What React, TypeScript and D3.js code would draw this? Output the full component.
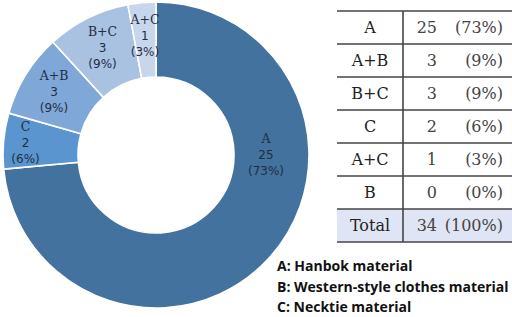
import React from "react";
import * as d3 from "d3";

const categories = ["A", "C", "A+B", "B+C", "A+C", "B"];
const counts = [25, 2, 3, 3, 1, 0];
const percents = ["73%", "6%", "9%", "9%", "3%", "0%"];
const colors = ["#44729f", "#5b95cf", "#7fa8d8", "#a9c2e2", "#c8d6ec", "#dbe5f3"];

const tableCats = ["A", "A+B", "B+C", "C", "A+C", "B", "Total"];
const tableCounts = [25, 3, 3, 2, 1, 0, 34];
const tablePercents = ["(73%)", "(9%)", "(9%)", "(6%)", "(3%)", "(0%)", "(100%)"];

const legendLines = ["A: Hanbok material", "B: Western-style clothes material", "C: Necktie material"];

export default function App() {
  const W = 512, H = 317;
  const cx = 156, cy = 155, rOuter = 153, rInner = 78;
  const pie = d3.pie<number>().value((d) => d).sort(null)(counts);
  const arc = d3.arc<d3.PieArcDatum<number>>().innerRadius(rInner).outerRadius(rOuter);

  const tx0 = 337, tx1 = 512, tDiv = 403, ty0 = 11, rowH = 33;
  const yScale = d3.scaleLinear().domain([0, tableCats.length]).range([ty0, ty0 + rowH * tableCats.length]);

  return (
    <svg width={W} height={H} style={{ position: "absolute", left: 0, top: 0, background: "#fff" }}>
      <g transform={`translate(${cx},${cy})`}>
        {pie.map((p, i) =>
          p.value > 0 ? (
            <path key={i} d={arc(p) || ""} fill={colors[i]} stroke="#fff" strokeWidth={1.6} />
          ) : null
        )}
        {pie.map((p, i) => {
          if (p.value === 0) return null;
          let x: number, y: number;
          if (i === 0) {
            x = 110; y = 0;
          } else {
            const mid = (p.startAngle + p.endAngle) / 2;
            const r = i === 1 ? 131 : 120;
            x = r * Math.sin(mid);
            y = -r * Math.cos(mid);
          }
          return (
            <g key={"l" + i} transform={`translate(${x},${y})`} fill="#1f2d45" textAnchor="middle">
              <text y={-12} fontFamily="DejaVu Serif, serif" fontSize={12.5}>{categories[i]}</text>
              <text y={4} fontFamily="DejaVu Sans, sans-serif" fontSize={12}>{counts[i]}</text>
              <text y={20} fontFamily="DejaVu Sans, sans-serif" fontSize={12}>({percents[i]})</text>
            </g>
          );
        })}
      </g>

      <rect x={tx0} y={yScale(6)} width={tx1 - tx0} height={rowH} fill="#dfe5f4" />
      {d3.range(tableCats.length + 1).map((k) => (
        <line key={"h" + k} x1={tx0} x2={tx1} y1={yScale(k)} y2={yScale(k)} stroke="#444" strokeWidth={1.6} />
      ))}
      <line x1={tDiv} x2={tDiv} y1={yScale(0)} y2={yScale(tableCats.length)} stroke="#444" strokeWidth={1.6} />
      {tableCats.map((c, k) => {
        const ym = yScale(k) + rowH / 2 + 5.5;
        return (
          <g key={"t" + k} fontFamily="DejaVu Serif, serif" fontSize={16} fill="#222">
            <text x={(tx0 + tDiv) / 2} y={ym} textAnchor="middle">{c}</text>
            <text x={437} y={ym} textAnchor="end" fill="#444">{tableCounts[k]}</text>
            <text x={503} y={ym} textAnchor="end" fill="#444">{tablePercents[k]}</text>
          </g>
        );
      })}

      {legendLines.map((t, i) => (
        <text key={"g" + i} x={277} y={271 + i * 20.5} fontFamily="Open Sans, sans-serif" fontWeight={700} fontSize={14} fill="#111">
          {t}
        </text>
      ))}
    </svg>
  );
}
